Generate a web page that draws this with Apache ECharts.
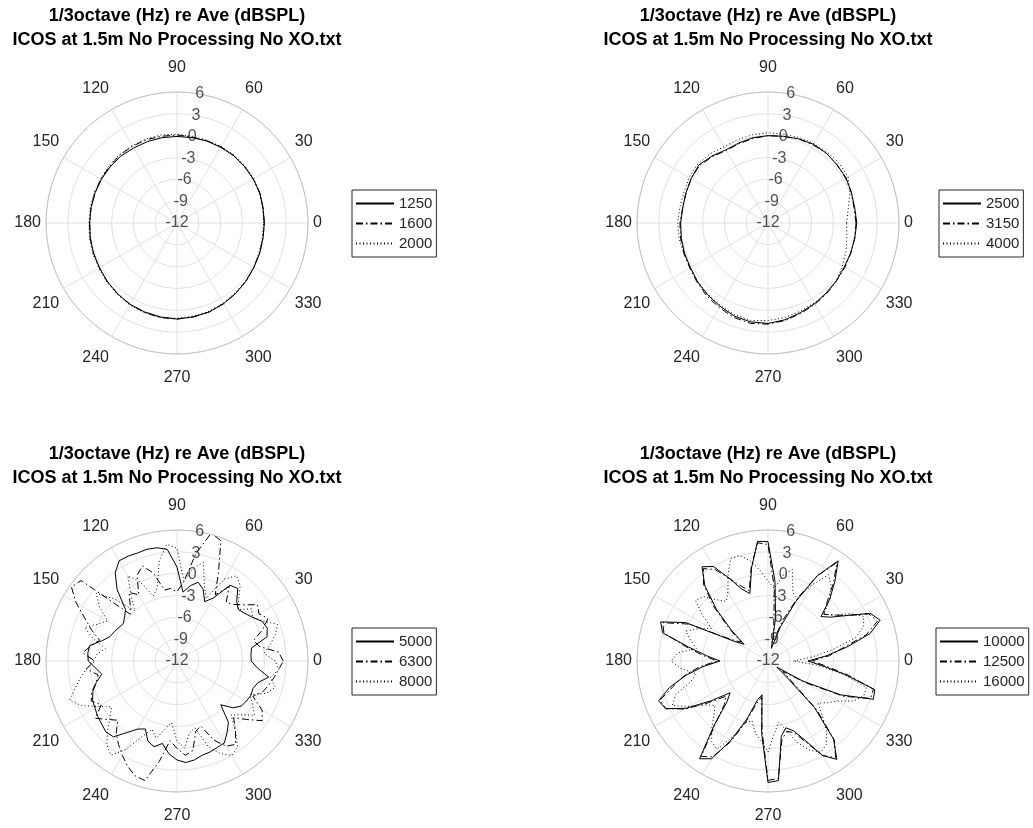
<!DOCTYPE html>
<html>
<head>
<meta charset="utf-8">
<script src="https://cdn.jsdelivr.net/npm/echarts@6/dist/echarts.min.js"></script>
<style>
  html, body { margin: 0; padding: 0; background: #fff; }
  #chart { width: 1033px; height: 828px; }
</style>
</head>
<body>
<div id="chart"></div>
<script>
// measurement angles (deg)
const ANGLES_10 = [0, 10, 20, 30, 40, 50, 60, 70, 80, 90, 100, 110, 120, 130, 140, 150, 160, 170,
  180, 190, 200, 210, 220, 230, 240, 250, 260, 270, 280, 290, 300, 310, 320, 330, 340, 350];
const ANGLES_5 = [0, 5, 10, 15, 20, 25, 30, 35, 40, 45, 50, 55, 60, 65, 70, 75, 80, 85,
  90, 95, 100, 105, 110, 115, 120, 125, 130, 135, 140, 145, 150, 155, 160, 165, 170, 175,
  180, 185, 190, 195, 200, 205, 210, 215, 220, 225, 230, 235, 240, 245, 250, 255, 260, 265,
  270, 275, 280, 285, 290, 295, 300, 305, 310, 315, 320, 325, 330, 335, 340, 345, 350, 355];
const R_TICKS = [-12, -9, -6, -3, 0, 3, 6];
const THETA_TICKS = [0, 30, 60, 90, 120, 150, 180, 210, 240, 270, 300, 330];
const TITLE = '1/3octave (Hz) re Ave (dBSPL)\nICOS at 1.5m No Processing No XO.txt';

// panel 1 (10 deg)
const F1250 = [0.0, 0.0, 0.1, 0.1, 0.1, 0.1, 0.0, 0.0, -0.1, -0.1, -0.1, -0.1, -0.1, 0.0, 0.0, 0.0, 0.0, 0.0,
  0.0, 0.1, 0.2, 0.3, 0.5, 0.7, 0.9, 1.0, 1.1, 1.2, 1.1, 1.0, 0.8, 0.6, 0.4, 0.2, 0.1, 0.0];
const F1600 = [0.0, 0.0, 0.1, 0.1, 0.1, 0.1, 0.1, 0.0, 0.0, 0.1, 0.1, 0.2, 0.2, 0.2, 0.1, 0.1, 0.0, 0.0,
  0.0, 0.1, 0.2, 0.3, 0.5, 0.7, 0.9, 1.1, 1.2, 1.2, 1.1, 1.0, 0.8, 0.6, 0.4, 0.2, 0.1, 0.0];
const F2000 = [-0.1, 0.0, 0.1, 0.2, 0.2, 0.2, 0.1, 0.1, 0.1, 0.2, 0.3, 0.3, 0.3, 0.3, 0.2, 0.1, 0.1, 0.1,
  0.1, 0.2, 0.3, 0.4, 0.6, 0.8, 1.0, 1.1, 1.2, 1.1, 1.0, 0.9, 0.7, 0.5, 0.3, 0.2, 0.0, -0.1];

// panel 2 (10 deg)
const F2500 = [0.2, 0.1, 0.2, 0.4, 0.4, 0.5, 0.5, 0.3, 0.1, 0.0, -0.1, -0.3, -0.4, 0.0, 0.4, 0.2, 0.0, -0.1,
  0.0, 0.1, 0.2, 0.3, 0.6, 0.9, 1.2, 1.6, 1.8, 1.8, 1.5, 1.1, 0.8, 0.5, 0.3, 0.1, 0.1, 0.1];
const F3150 = [0.1, 0.0, 0.2, 0.3, 0.4, 0.5, 0.4, 0.3, 0.1, 0.0, -0.2, -0.4, -0.5, -0.1, 0.3, 0.2, 0.0, -0.1,
  0.1, 0.2, 0.3, 0.4, 0.7, 1.1, 1.4, 1.8, 2.0, 1.9, 1.6, 1.2, 0.9, 0.6, 0.3, 0.2, 0.1, 0.1];
const F4000 = [-1.2, -0.8, 0.0, 0.7, 0.8, 0.7, 0.6, 0.5, 0.4, 0.4, 0.3, 0.2, 0.1, 0.4, 0.6, 0.5, 0.3, 0.3,
  0.4, 0.4, 0.3, 0.3, 0.6, 0.8, 1.1, 1.4, 1.6, 1.4, 1.2, 0.9, 0.7, 0.6, 0.3, -0.2, -0.6, -1.0];

// panel 3 (5 deg)
const F5000 = [-1.8, -1.8, -1.6, 0.8, 1.2, 0.9, 0.0, -0.6, -1.0, -0.4, 1.0, 0.7, -2.0, -3.0, -1.5, -0.8, -1.5, -2.5,
  0.9, 3.4, 3.8, 3.9, 3.8, 3.9, 3.9, 2.8, 0.8, -2.0, -2.6, -3.0, -2.8, -2.5, -2.2, -1.3, 0.2, 0.3,
  0.2, -0.8, -1.5, -0.5, 0.3, 0.8, 1.0, 1.3, 1.5, 1.8, 1.6, 0.0, -1.2, -1.7, -0.3, 0.2, -0.5, 0.8,
  1.6, 2.0, 1.8, 1.4, 1.3, 1.1, 1.0, 0.0, -1.0, -3.5, -2.0, -1.2, -1.0, -0.8, -0.9, -0.5, 0.8, -0.9];
const F6300 = [2.6, 2.0, -0.5, -1.1, 0.5, 1.8, 1.0, 1.5, 0.0, -1.0, -1.5, 0.5, -1.5, 1.5, 5.6, 6.2, 3.0, -1.0,
  -2.5, -2.0, -2.1, 0.5, 1.9, 1.0, -1.5, -0.5, -2.0, -2.9, 5.2, 5.7, 4.0, 2.0, 0.5, -1.0, 0.0, 1.0,
  -0.7, 0.5, -1.0, -0.5, 0.5, 1.0, 0.0, 1.7, 0.5, -0.5, 1.0, 2.0, 3.0, 4.0, 4.8, 5.0, 2.0, -1.0,
  0.0, 1.0, 0.5, -2.0, -2.5, 0.0, 1.5, 2.0, 0.5, -1.0, 0.5, 2.3, 1.5, -0.5, 0.5, 1.0, 1.5, 2.0];
const F8000 = [1.5, 0.0, 1.0, 2.0, 2.7, 1.0, 0.0, 0.5, -1.0, 0.0, 1.5, 2.3, 1.0, -2.5, -1.0, 2.0, 1.0, -1.0,
  3.5, 4.1, 2.0, -1.5, -2.5, 0.0, 1.5, -1.0, -3.0, 0.0, 2.5, 1.0, -1.0, 0.0, 1.5, 0.0, -2.0, -1.0,
  -0.5, 0.5, 1.5, 2.5, 3.7, 2.5, 0.5, -1.0, 0.0, 1.5, 3.0, 3.8, 2.0, -0.5, -2.0, -1.0, -2.5, -3.5,
  -1.0, 0.0, -2.0, -2.5, 0.5, 2.0, 3.0, 2.5, 0.5, -1.5, -0.5, 1.0, 0.0, -1.0, 1.0, 2.0, 1.0, 2.0];

// panel 4 (5 deg)
const F10000 = [-6.5, -4.0, -1.0, 2.5, 4.4, 3.5, 0.5, -1.5, -2.5, 0.0, 2.3, 4.8, 1.5, -3.0, -7.0, -10.2, -6.0, -1.0,
  4.4, 4.5, 1.0, -2.4, -1.5, 0.5, 3.0, 3.8, 1.5, -2.0, -5.5, -8.0, -6.5, 0.5, 3.7, 3.0, -0.9, -3.5,
  -5.4, -3.0, -0.5, 2.0, 4.0, 3.5, 1.0, -2.5, -5.2, -4.0, -0.5, 4.4, 3.5, 0.0, -3.5, -6.5, -7.3, -2.0,
  4.7, 4.5, -1.5, -2.5, -1.8, 0.0, 3.0, 4.5, 2.0, -3.0, -9.0, -10.5, -6.5, -1.0, 3.4, 3.2, -1.2, -4.5];
const F12500 = [-6.0, -3.5, -1.5, 2.0, 4.0, 3.3, 0.5, -1.0, -2.0, -0.5, 2.0, 4.5, 1.5, -2.5, -6.0, -9.0, -7.5, -2.0,
  4.0, 4.3, 1.2, -2.0, -1.0, 0.5, 2.5, 3.5, 1.8, -1.5, -5.0, -7.5, -6.0, 0.0, 3.4, 2.8, -0.5, -3.0,
  -5.0, -2.5, -0.3, 1.5, 3.8, 3.5, 1.2, -2.0, -4.5, -3.5, -0.8, 4.0, 3.2, 0.3, -3.0, -6.0, -7.0, -2.5,
  4.4, 4.2, -1.0, -2.0, -1.5, 0.3, 3.0, 4.2, 2.2, -2.5, -8.0, -9.5, -6.0, -0.5, 3.0, 3.0, -0.8, -4.0];
const F16000 = [-8.5, -6.0, -3.0, 0.5, 2.0, 2.5, 1.0, -1.0, -2.0, 0.0, 1.5, 2.5, 0.0, -2.5, -2.0, 1.0, 0.0, -2.0,
  -1.0, 0.5, 2.0, 3.0, 3.0, 1.0, -1.0, -2.0, -1.0, 0.5, 1.0, -1.0, -3.0, -1.5, 0.0, -1.0, -2.0, 0.5,
  1.3, 0.0, -2.0, -1.0, 1.5, 2.5, 0.5, -1.5, -2.5, -1.5, 0.0, 1.5, 2.0, -0.5, -3.0, -3.5, -2.0, -1.0,
  0.5, -2.0, -3.5, -2.0, 0.0, 1.5, 2.5, 2.0, 0.5, -1.5, -3.0, -2.0, -1.0, 1.0, 2.0, 2.0, -1.5, -5.0];

const FONT = "Arial, 'Liberation Sans', Helvetica, sans-serif";
const GRID = '#e1e1e1';
const TEXT = '#262626';

const panels = [
  { center: [177, 223], legendAt: [352, 190], names: ['1250', '1600', '2000'], angles: ANGLES_10, data: [F1250, F1600, F2000] },
  { center: [768, 223], legendAt: [939, 190], names: ['2500', '3150', '4000'], angles: ANGLES_10, data: [F2500, F3150, F4000] },
  { center: [177, 661], legendAt: [352, 628], names: ['5000', '6300', '8000'], angles: ANGLES_5, data: [F5000, F6300, F8000] },
  { center: [768, 661], legendAt: [936, 628], names: ['10000', '12500', '16000'], angles: ANGLES_5, data: [F10000, F12500, F16000] },
];
const RADIUS = 131;
const lineTypes = ['solid', [7, 3, 1.5, 3], [1, 2.5]];

// theta labels sit a bit further out above / below the circle
const thetaRich = {};
THETA_TICKS.forEach((t) => {
  const s = Math.sin((t * Math.PI) / 180);
  const pad = Math.round(Math.abs(s) * 10.5);
  thetaRich['t' + t] = {
    color: TEXT,
    fontSize: 16,
    fontFamily: FONT,
    padding: s > 0.01 ? [0, 0, pad, 0] : s < -0.01 ? [pad, 0, 0, 0] : 0,
  };
});

// [radius, angle] pairs, closed back onto the first sample
const toPolar = (values, angles) => {
  const pts = values.map((v, i) => [v, angles[i]]);
  pts.push([values[0], 360]);
  return pts;
};

const polar = [];
const angleAxis = [];
const radiusAxis = [];
const legend = [];
const series = [];
const graphic = [];

panels.forEach((p, i) => {
  polar.push({ center: p.center, radius: RADIUS });
  angleAxis.push({
    polarIndex: i,
    type: 'value',
    min: 0,
    max: 360,
    interval: 30,
    startAngle: 0,
    clockwise: false,
    axisLine: { show: true, lineStyle: { color: '#c4c4c4', width: 1 } },
    axisTick: { show: false },
    axisLabel: {
      color: TEXT,
      fontSize: 16,
      fontFamily: FONT,
      margin: 5,
      formatter: (v) => `{t${v}|${v}}`,
      rich: thetaRich,
    },
    splitLine: { show: true, lineStyle: { color: GRID, width: 1 } },
  });
  radiusAxis.push({
    polarIndex: i,
    type: 'value',
    min: -12,
    max: 6,
    interval: 3,
    axisLine: { show: false },
    axisTick: { show: false },
    axisLabel: { show: false },
    splitLine: { show: true, lineStyle: { color: GRID, width: 1 } },
  });
  legend.push({
    data: p.names,
    orient: 'vertical',
    left: p.legendAt[0],
    top: p.legendAt[1],
    backgroundColor: '#fff',
    borderColor: '#262626',
    borderWidth: 1,
    borderRadius: 0,
    padding: [6, 4, 6, 3],
    itemGap: 5,
    itemWidth: 38,
    itemHeight: 14,
    itemStyle: { color: 'rgba(0,0,0,0)', borderWidth: 0 },
    textStyle: { color: TEXT, fontSize: 15, fontFamily: FONT },
    selectedMode: false,
  });
  p.names.forEach((name, k) => {
    series.push({
      name,
      type: 'line',
      coordinateSystem: 'polar',
      polarIndex: i,
      symbol: 'none',
      smooth: false,
      lineStyle: { color: '#000', width: 1, type: lineTypes[k] },
      data: toPolar(p.data[k], p.angles),
      z: 3,
    });
  });
  // radial tick labels along 80 deg, as in the source plot
  series.push({
    type: 'scatter',
    coordinateSystem: 'polar',
    polarIndex: i,
    silent: true,
    symbolSize: 0,
    data: R_TICKS.map((r) => [r, 80]),
    label: {
      show: true,
      position: 'inside',
      color: TEXT,
      fontSize: 16,
      fontFamily: FONT,
      formatter: (d) => String(d.value[0]),
    },
    z: 4,
  });
  graphic.push({
    type: 'text',
    x: p.center[0],
    y: p.center[1] - 219,
    style: {
      text: TITLE,
      fill: '#000',
      font: `bold 18px ${FONT}`,
      textAlign: 'center',
      lineHeight: 24,
    },
  });
});

const chart = echarts.init(document.getElementById('chart'), null, { renderer: 'canvas' });
chart.setOption({
  backgroundColor: '#fff',
  animation: false,
  polar,
  angleAxis,
  radiusAxis,
  legend,
  series,
  graphic,
});
</script>
</body>
</html>
